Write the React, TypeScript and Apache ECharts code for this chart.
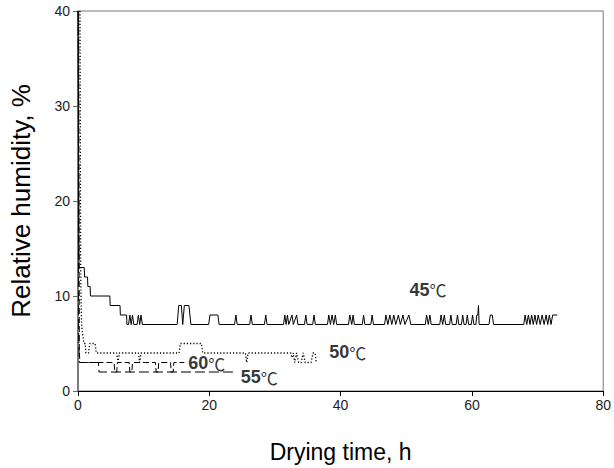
import React, { useEffect, useRef } from "react";
import * as echarts from "echarts";

// Relative humidity (%) vs drying time (h)
const rh45: [number, number][] = [
  [0, 40], [0.15, 13], [0.95, 13], [1.0, 12], [1.45, 12], [1.5, 11], [1.85, 11], [1.9, 10],
  [4.85, 10], [4.9, 9], [6.4, 9], [6.45, 8], [7.4, 8], [7.45, 7],
  [7.7, 7], [7.9, 8], [8.1, 7], [8.3, 8], [8.5, 7],
  [9.0, 7], [9.2, 8], [9.4, 7], [9.6, 8], [9.8, 7],
  [15.1, 7], [15.35, 9], [15.75, 9], [15.95, 7], [16.2, 9], [16.9, 9], [17.2, 7],
  [19.9, 7], [20.1, 8], [21.3, 8], [21.5, 7],
  [23.85, 7], [24.05, 8], [24.25, 7],
  [26.15, 7], [26.35, 8], [26.55, 7],
  [28.4, 7], [28.6, 8], [28.8, 7],
  [31.3, 7], [31.5, 8], [31.7, 7], [31.9, 8], [32.1, 7], [32.6, 8], [32.8, 7], [33.3, 8], [33.5, 7],
  [34.5, 7], [34.7, 8], [34.9, 7],
  [35.75, 7], [35.95, 8], [36.15, 7],
  [38.0, 7], [38.2, 8], [38.45, 7], [38.7, 8], [38.95, 7], [39.2, 8], [39.4, 7],
  [41.2, 7], [41.4, 8], [41.7, 7], [41.9, 8], [42.1, 7],
  [43.3, 7], [43.5, 8], [43.7, 7],
  [44.6, 7], [44.8, 8], [45.0, 7],
  [46.7, 7], [46.9, 8], [47.2, 7], [47.5, 8], [47.8, 7], [48.1, 8], [48.4, 7], [48.8, 8], [49.1, 7],
  [49.5, 8], [49.8, 7], [50.4, 8], [50.7, 7],
  [52.9, 7], [53.1, 8], [53.35, 7], [53.6, 8], [53.8, 7],
  [55.1, 7], [55.3, 8], [55.55, 7], [55.8, 8], [56.0, 7],
  [56.6, 7], [56.8, 8], [57.0, 7],
  [57.6, 7], [57.8, 8], [58.0, 7],
  [58.4, 7], [58.6, 8], [58.8, 7],
  [59.1, 7], [59.3, 8], [59.5, 7],
  [59.9, 7], [60.1, 8], [60.3, 7],
  [60.6, 7], [60.75, 8], [60.9, 8], [61.0, 9], [61.1, 7],
  [62.6, 7], [62.8, 8], [63.1, 8], [63.3, 7],
  [67.9, 7], [68.1, 8], [68.35, 7], [68.6, 8], [68.85, 7], [69.1, 8], [69.35, 7], [69.6, 8], [69.85, 7],
  [70.1, 8], [70.4, 7], [70.7, 8], [71.0, 7], [71.3, 8], [71.55, 7], [71.8, 8], [72.05, 7],
  [72.3, 8], [73.0, 8],
];

const rh50: [number, number][] = [
  [0.3, 40], [0.4, 14], [0.45, 10], [0.55, 7], [0.7, 6], [0.9, 5], [1.1, 5], [1.2, 4],
  [1.6, 4], [1.8, 5], [2.6, 5], [2.8, 4],
  [5.9, 4], [6.1, 3], [6.3, 4],
  [9.2, 4], [9.4, 3], [9.6, 4],
  [15.4, 4], [15.6, 5], [18.8, 5], [19.0, 4],
  [25.5, 4], [25.7, 3], [25.9, 4],
  [32.4, 4], [32.6, 3.5], [32.8, 4], [33.0, 3], [33.3, 4], [33.6, 3], [34.0, 3], [34.3, 4],
  [34.6, 3], [35.5, 3], [35.8, 4], [36.1, 4], [36.3, 3],
];

const rh55: [number, number][] = [
  [0.05, 40], [0.1, 6], [0.2, 3], [3.1, 3], [3.2, 2], [24.0, 2],
];

const rh60: [number, number][] = [
  [0.1, 40], [0.2, 4], [0.3, 3], [5.5, 3], [5.6, 2], [5.9, 2], [6.0, 3],
  [7.8, 3], [7.9, 2], [8.2, 2], [8.3, 3],
  [11.8, 3], [11.9, 2], [12.2, 2], [12.3, 3],
  [14.1, 3], [14.2, 2], [14.5, 2], [14.6, 3], [16.2, 3],
];

const seriesLabels = ["45", "50", "55", "60"];
const labelTime = [53.3, 41.1, 27.6, 19.6];
const labelRH = [10.65, 4.07, 1.46, 2.92];

const xTicks = [0, 20, 40, 60, 80];
const yTicks = [0, 10, 20, 30, 40];

const FONT = "'Liberation Sans', Arial, 'Noto Sans CJK SC', sans-serif";

export default function App() {
  const ref = useRef<HTMLDivElement>(null);
  useEffect(() => {
    const chart = echarts.init(ref.current!, undefined, { renderer: "svg" });
    const line = (name: string, data: [number, number][], type: any, width = 1) => ({
      name,
      type: "line",
      data,
      symbol: "none",
      lineStyle: { color: "#000", width, type },
      z: 3,
    });
    chart.setOption({
      animation: false,
      backgroundColor: "#fff",
      grid: {
        left: 76, right: 7, top: 11, bottom: 74,
        show: true, borderColor: "#777", borderWidth: 1,
      },
      xAxis: {
        type: "value",
        min: xTicks[0], max: xTicks[xTicks.length - 1], interval: 20,
        name: "Drying time, h",
        nameLocation: "middle", nameGap: 49,
        nameTextStyle: { fontFamily: FONT, fontSize: 23, color: "#000" },
        axisLine: { lineStyle: { color: "#000", width: 1 } },
        axisTick: { show: true, inside: false, length: 5, lineStyle: { color: "#000" } },
        axisLabel: { fontFamily: FONT, fontSize: 14, color: "#222", margin: 7 },
        splitLine: { show: false },
      },
      yAxis: {
        type: "value",
        min: yTicks[0], max: yTicks[yTicks.length - 1], interval: 10,
        name: "Relative humidity, %",
        nameLocation: "middle", nameGap: 44,
        nameTextStyle: { fontFamily: FONT, fontSize: 26, color: "#000" },
        axisLine: { show: true, lineStyle: { color: "#666", width: 1.5 } },
        axisTick: { show: true, inside: false, length: 5, lineStyle: { color: "#666" } },
        axisLabel: { fontFamily: FONT, fontSize: 14, color: "#222", margin: 8 },
        splitLine: { show: false },
      },
      series: [
        line("45℃", rh45, "solid"),
        line("50℃", rh50, [1.2, 2], 1.3),
        line("55℃", rh55, [10, 4]),
        line("60℃", rh60, [6, 3]),
        {
          type: "scatter",
          symbolSize: 0,
          silent: true,
          z: 5,
          data: seriesLabels.map((s, i) => ({ value: [labelTime[i], labelRH[i]], name: s })),
          label: {
            show: true,
            position: "inside",
            formatter: (p: any) => `{a|${p.name}}{b|℃}`,
            rich: {
              a: { fontFamily: FONT, fontSize: 18, fontWeight: "bold", color: "#000" },
              b: { fontFamily: "'Noto Sans CJK SC', sans-serif", fontSize: 17, fontWeight: "normal", color: "#000" },
            },
          },
        },
      ],
    });
    return () => chart.dispose();
  }, []);
  return (
    <div
      ref={ref}
      style={{ position: "fixed", left: 0, top: 0, width: 614, height: 468, background: "#fff" }}
    />
  );
}
